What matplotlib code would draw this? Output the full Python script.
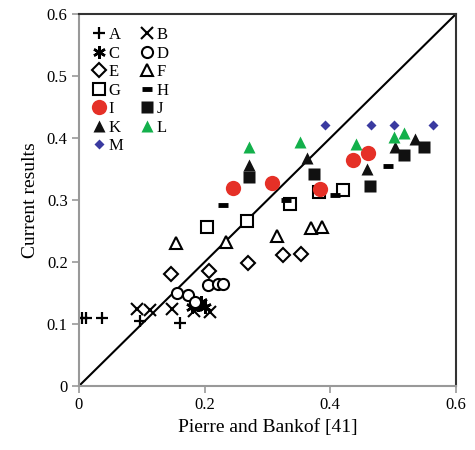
import matplotlib
matplotlib.use("Agg")
import matplotlib.pyplot as plt
from matplotlib.ticker import FuncFormatter

plt.rcParams['font.family'] = ['Liberation Serif', 'DejaVu Serif']

# data (x = Pierre and Bankof, y = current results)
a_x = [0.005, 0.011, 0.037, 0.097, 0.161]
a_y = [0.110, 0.110, 0.110, 0.105, 0.102]
b_x = [0.092, 0.113, 0.148, 0.183, 0.209]
b_y = [0.124, 0.123, 0.124, 0.121, 0.119]
c_x = [0.180, 0.186, 0.190, 0.195, 0.200]
c_y = [0.128, 0.133, 0.130, 0.135, 0.128]
d_x = [0.156, 0.174, 0.185, 0.205, 0.221, 0.229]
d_y = [0.150, 0.147, 0.135, 0.163, 0.165, 0.165]
e_x = [0.146, 0.207, 0.269, 0.325, 0.354]
e_y = [0.181, 0.185, 0.198, 0.211, 0.213]
f_x = [0.154, 0.234, 0.315, 0.369, 0.387]
f_y = [0.230, 0.232, 0.242, 0.255, 0.256]
g_x = [0.204, 0.268, 0.336, 0.382, 0.420]
g_y = [0.256, 0.266, 0.294, 0.313, 0.316]
h_x = [0.229, 0.330, 0.408, 0.492]
h_y = [0.292, 0.300, 0.308, 0.355]
i_x = [0.245, 0.307, 0.384, 0.436, 0.460]
i_y = [0.319, 0.327, 0.318, 0.365, 0.376]
j_x = [0.271, 0.374, 0.463, 0.517, 0.549]
j_y = [0.337, 0.342, 0.323, 0.372, 0.385]
k_x = [0.271, 0.363, 0.459, 0.503, 0.535]
k_y = [0.356, 0.367, 0.350, 0.385, 0.398]
l_x = [0.271, 0.352, 0.441, 0.502, 0.518]
l_y = [0.385, 0.394, 0.390, 0.401, 0.408]
m_x = [0.392, 0.465, 0.502, 0.564]
m_y = [0.421, 0.421, 0.421, 0.421]

fig = plt.figure(figsize=(4.75, 4.5), dpi=100)
ax = fig.add_axes([0.166, 0.142, 0.794, 0.827])

ax.plot([0, 0.6], [0, 0.6], color='black', lw=1.5, zorder=1)

open_style = dict(ls='none', mfc='white', mec='black', mew=1.5)
h = {}
h['A'], = ax.plot(a_x, a_y, ls='none', marker='+', ms=9, mew=1.6, color='black', label='A')
h['B'], = ax.plot(b_x, b_y, ls='none', marker='x', ms=8, mew=1.5, color='black', label='B')
h['C'], = ax.plot(c_x, c_y, ls='none', marker=(6, 2, 0), ms=9, mew=1.8, color='black', label='C')
h['D'], = ax.plot(d_x, d_y, marker='o', ms=8, label='D', **open_style)
h['E'], = ax.plot(e_x, e_y, marker='D', ms=7, label='E', **open_style)
h['F'], = ax.plot(f_x, f_y, marker='^', ms=8, label='F', **open_style)
h['G'], = ax.plot(g_x, g_y, marker='s', ms=8, label='G', **open_style)
h['H'], = ax.plot(h_x, h_y, ls='none', marker='_', ms=7, mew=3.5, color='black', label='H')
h['I'], = ax.plot(i_x, i_y, ls='none', marker='o', ms=11, color='#e53027', mec='none', label='I')
h['J'], = ax.plot(j_x, j_y, ls='none', marker='s', ms=8, color='#111111', mec='none', label='J')
h['K'], = ax.plot(k_x, k_y, ls='none', marker='^', ms=9, color='#111111', mec='none', label='K')
h['L'], = ax.plot(l_x, l_y, ls='none', marker='^', ms=9, color='#13b04b', mec='none', label='L')
h['M'], = ax.plot(m_x, m_y, ls='none', marker='D', ms=5, color='#3a3aa0', mec='none', label='M')

order = ['A', 'C', 'E', 'G', 'I', 'K', 'M', 'B', 'D', 'F', 'H', 'J', 'L']
ax.legend([h[k] for k in order], order, ncol=2, loc='upper left', frameon=False,
          fontsize=12, handlelength=0.8, handletextpad=0.2, columnspacing=1.0,
          labelspacing=0.15, borderaxespad=0.4, bbox_to_anchor=(0.0, 1.0))

ax.set_xlim(0, 0.6)
ax.set_ylim(0, 0.6)
ax.set_xticks([0, 0.2, 0.4, 0.6])
ax.set_yticks([0, 0.1, 0.2, 0.3, 0.4, 0.5, 0.6])
fmt = FuncFormatter(lambda v, p: '0' if abs(v) < 1e-9 else f'{v:g}')
ax.xaxis.set_major_formatter(fmt)
ax.yaxis.set_major_formatter(fmt)
ax.tick_params(direction='out', length=5, width=1.2, color='#999999', labelsize=12, pad=3)

ax.spines['left'].set_color('#999999')
ax.spines['bottom'].set_color('#999999')
ax.spines['top'].set_color('#333333')
ax.spines['right'].set_color('#333333')
for s in ax.spines.values():
    s.set_linewidth(1.5)

ax.set_xlabel('Pierre and Bankof [41]', fontsize=14, labelpad=4)
ax.set_ylabel('Current results', fontsize=14, labelpad=6)

fig.savefig('out.png', dpi=100)
